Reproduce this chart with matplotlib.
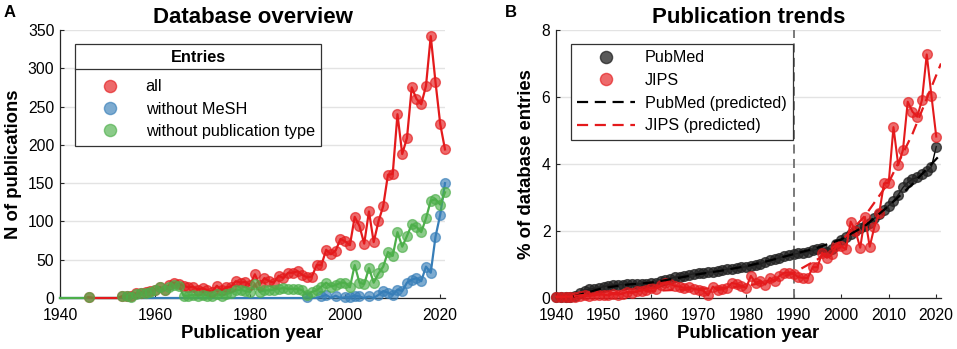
import numpy as np
import matplotlib
matplotlib.use("Agg")
import matplotlib.pyplot as plt
from matplotlib.lines import Line2D

plt.rcParams['font.family'] = ['Liberation Sans', 'DejaVu Sans']

# ---------------- Panel A data ----------------
years_all = list(range(1946, 2022))
n_all = [1,
         0, 0, 0, 0, 0, 0,
         2, 3, 2, 6, 7, 8, 9, 11, 14, 11, 17, 20, 18,
         16, 14, 15, 11, 13, 10, 8, 16, 10, 14, 15, 22, 20, 21, 17,
         31, 17, 26, 22, 20, 29, 26, 33, 33, 35, 30, 27, 28, 43, 43, 63, 57, 62, 77, 74, 69,
         106, 94, 71, 113, 73, 100, 120, 161, 162, 240, 188, 209, 275, 260, 253, 277, 342, 282, 227, 194]

years_full = list(range(1940, 2022))
n_no_pubtype = [0, 0, 0, 0, 0, 0,
                1,
                0, 0, 0, 0, 0, 0,
                2, 3, 1, 5, 6, 7, 8, 10, 14, 10, 15, 17, 16,
                3, 3, 4, 3, 4, 3, 2, 5, 3, 5, 7, 10, 11, 9, 8,
                18, 8, 10, 10, 11, 12, 13, 12, 12, 12, 10, 4, 8, 10, 15, 20, 15, 17, 20, 20, 14,
                43, 20, 18, 39, 20, 32, 41, 60, 55, 86, 67, 81, 96, 93, 86, 104, 127, 129, 122, 138]

n_no_mesh = [0] * 52 + [1, 0, 0, 2, 4, 0, 3, 0, 1, 1, 3, 2, 0, 2, 0, 4, 9, 7, 4, 11,
                        9, 20, 24, 26, 22, 41, 33, 80, 109, 150]

# ---------------- Panel B data ----------------
years_b = list(range(1940, 2021))
pubmed = [0.02, 0.02, 0.02, 0.03, 0.05, 0.15, 0.22, 0.26, 0.28, 0.30,
          0.34, 0.37, 0.39, 0.40, 0.40, 0.41, 0.41, 0.42, 0.42, 0.43,
          0.44, 0.46, 0.50, 0.54, 0.58, 0.62, 0.64, 0.67, 0.70, 0.72,
          0.74, 0.76, 0.77, 0.78, 0.80, 0.83, 0.86, 0.88, 0.90, 0.92,
          0.93, 0.95, 0.98, 1.02, 1.07, 1.12, 1.16, 1.20, 1.24, 1.28,
          1.31, 1.33, 1.35, 1.38, 1.42, 1.46, 1.50, 1.38, 1.45, 1.60,
          1.72, 1.82, 1.92, 2.00, 2.08, 2.15, 2.25, 2.38, 2.50, 2.62,
          2.76, 2.90, 3.08, 3.30, 3.45, 3.55, 3.60, 3.70, 3.78, 3.92,
          4.52]
jips = [0.04, 0.04, 0.04, 0.04, 0.04, 0.05, 0.08, 0.06, 0.08, 0.10,
        0.10, 0.08, 0.12, 0.10, 0.13, 0.18, 0.15, 0.20, 0.22, 0.25,
        0.30, 0.28, 0.38, 0.45, 0.42, 0.36, 0.34, 0.30, 0.32, 0.27,
        0.25, 0.22, 0.08, 0.34, 0.24, 0.26, 0.30, 0.45, 0.42, 0.36,
        0.30, 0.66, 0.45, 0.52, 0.40, 0.60, 0.50, 0.66, 0.75, 0.76,
        0.72, 0.62, 0.60, 0.60, 0.92, 0.92, 1.35, 1.20, 1.30, 1.55,
        1.55, 1.45, 2.28, 2.00, 1.50, 2.42, 1.53, 2.13, 2.53, 3.42,
        3.44, 5.10, 3.97, 4.42, 5.86, 5.56, 5.41, 5.91, 7.27, 6.02,
        4.82]

pred_years = [1940, 1945, 1950, 1955, 1960, 1965, 1970, 1975, 1980, 1985,
              1990, 1995, 2000, 2005, 2010, 2015, 2021]
pubmed_pred = [-0.10, 0.10, 0.30, 0.40, 0.46, 0.58, 0.71, 0.82, 0.95, 1.12,
               1.31, 1.50, 1.75, 2.15, 2.75, 3.40, 4.30]
jips_pred = [0.00, 0.08, 0.13, 0.17, 0.21, 0.24, 0.27, 0.30, 0.36, 0.50,
             0.75, 1.15, 1.70, 2.45, 3.45, 4.90, 7.00]

RED = '#e41a1c'
BLUE = '#377eb8'
GREEN = '#4daf4a'

W, H = 957, 349
fig = plt.figure(figsize=(W / 100, H / 100), dpi=100)

def axes_px(l, r, t, b):
    return fig.add_axes([l / W, 1 - b / H, (r - l) / W, (b - t) / H])

axA = axes_px(60, 445, 30, 298)
axB = axes_px(556, 941, 30, 298)

def style(ax):
    for s in ['top', 'right']:
        ax.spines[s].set_visible(False)
    for s in ['left', 'bottom']:
        ax.spines[s].set_color('#262626')
        ax.spines[s].set_linewidth(0.9)
    ax.tick_params(direction='in', length=3, width=0.8, labelsize=11.3,
                   colors='#262626', labelcolor='black')
    ax.tick_params(axis='y', pad=4)
    ax.tick_params(axis='x', pad=7)
    ax.yaxis.grid(True, color='#e3e3e3', linewidth=1.0)
    ax.set_axisbelow(True)

MS = 7
ALPHA = 0.65

def masked(v):
    v = np.asarray(v, dtype=float)
    return np.where(v > 0, v, np.nan)

# ---------- Panel A ----------
style(axA)
series = {'all': (years_all, n_all, RED),
          'without MeSH': (years_full, n_no_mesh, BLUE),
          'without publication type': (years_full, n_no_pubtype, GREEN)}
line_z = {'without MeSH': 2.6, 'without publication type': 3, 'all': 4}
mark_z = {'without MeSH': 5, 'all': 6, 'without publication type': 7}
handles = {}
for lab in ['without MeSH', 'without publication type', 'all']:
    yrs, vals, col = series[lab]
    axA.plot(yrs, vals, color=col, lw=1.6, zorder=line_z[lab], clip_on=False)
    h, = axA.plot(yrs, masked(vals), linestyle='none', marker='o', ms=MS,
                  mfc=col, mec=col, alpha=ALPHA, zorder=mark_z[lab], clip_on=False)
    handles[lab] = h

axA.set_xlim(1940, 2021)
axA.set_ylim(0, 350)
axA.set_xticks([1940, 1960, 1980, 2000, 2020])
axA.set_yticks(range(0, 351, 50))
axA.set_title('Database overview', fontsize=16, fontweight='bold', pad=5)
axA.set_xlabel('Publication year', fontsize=13.3, fontweight='bold', labelpad=2)
axA.set_ylabel('N of publications', fontsize=13.3, fontweight='bold', labelpad=4)

labs = ['all', 'without MeSH', 'without publication type']
legA = axA.legend([handles[l] for l in labs], labs,
                  loc='upper left', bbox_to_anchor=((75 - 60) / 385, (298 - 44) / 268),
                  borderaxespad=0, fontsize=11.7, title='Entries',
                  title_fontproperties={'weight': 'bold', 'size': 11.7},
                  frameon=True, fancybox=False, edgecolor='#333333', framealpha=1,
                  handlelength=3.5, handletextpad=0.45, borderpad=0.4,
                  labelspacing=0.45, markerscale=1.25)
legA.get_frame().set_linewidth(0.9)
legA.set_zorder(10)
legA._legend_box.sep = 10

# ---------- Panel B ----------
style(axB)
axB.axvline(1990, color='#707070', lw=1.3, linestyle=(0, (5, 3)), zorder=1)
axB.plot(years_b, pubmed, color='black', lw=1.0, zorder=3, clip_on=False)
axB.plot(years_b, pubmed, linestyle='none', marker='o', ms=MS, mfc='#222222',
         mec='#222222', alpha=0.75, zorder=3, label='PubMed', clip_on=False)
axB.plot(years_b, jips, color=RED, lw=1.5, zorder=4, clip_on=False)
axB.plot(years_b, jips, linestyle='none', marker='o', ms=MS, mfc=RED, mec=RED,
         alpha=ALPHA, zorder=4, label='JIPS', clip_on=False)
axB.plot(pred_years, pubmed_pred, color='black', lw=1.6, linestyle=(0, (5, 3)),
         zorder=5, label='PubMed (predicted)')
axB.plot(pred_years, jips_pred, color=RED, lw=1.6, linestyle=(0, (5, 3)),
         zorder=5, label='JIPS (predicted)')

axB.set_xlim(1940, 2021)
axB.set_ylim(0, 8)
axB.set_xticks(range(1940, 2021, 10))
axB.set_yticks(range(0, 9, 2))
axB.set_title('Publication trends', fontsize=16, fontweight='bold', pad=5)
axB.set_xlabel('Publication year', fontsize=13.3, fontweight='bold', labelpad=2)
axB.set_ylabel('% of database entries', fontsize=13.3, fontweight='bold', labelpad=5)

legB = axB.legend(loc='upper left', bbox_to_anchor=((571 - 556) / 385, (298 - 44) / 268),
                  borderaxespad=0, fontsize=11.6, frameon=True, fancybox=False,
                  edgecolor='#333333', framealpha=1, handlelength=3.6,
                  handletextpad=0.6, borderpad=0.4, labelspacing=0.47,
                  markerscale=1.25)
legB.get_frame().set_linewidth(0.9)
legB.set_zorder(10)

# panel letters
fig.text(4 / W, 1 - 17 / H, 'A', fontsize=12, fontweight='bold')
fig.text(505 / W, 1 - 17 / H, 'B', fontsize=12, fontweight='bold')

# separator line below legend title in panel A
fig.canvas.draw()
r = fig.canvas.get_renderer()
fb = legA.get_frame().get_window_extent(r)
tb = legA.get_title().get_window_extent(r)
ysep = tb.y0 - 3
inv = fig.transFigure.inverted()
(x0, y0) = inv.transform((fb.x0, ysep))
(x1, _) = inv.transform((fb.x1, ysep))
fig.add_artist(Line2D([x0, x1], [y0, y0], transform=fig.transFigure,
                      color='#333333', lw=0.9, zorder=20))

fig.savefig('out.png', dpi=100)
